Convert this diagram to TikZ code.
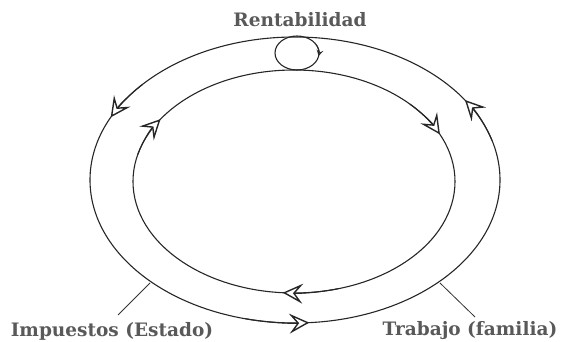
\documentclass[tikz,border=0pt]{standalone}
\usepackage{fontspec}
\setmainfont{DejaVu Serif}
\usetikzlibrary{arrows.meta}
\begin{document}
\begin{tikzpicture}[x=1pt,y=1pt,
  ring/.style={draw=black!85, line width=1.1pt},
  flow/.style={draw=black!85, line width=1.1pt, -{Stealth[open, length=20pt, width=20pt, inset=8pt, fill=white, line width=1.4pt]}},
  lbl/.style={text=black!65, font=\fontsize{18.5}{20}\selectfont\bfseries, inner sep=0pt},
  lead/.style={draw=black!80, line width=0.8pt}]
\useasboundingbox (0,0) rectangle (566,342);
\coordinate (CO) at (295,162);
\coordinate (CI) at (294,160.5);
\coordinate (CS) at (297,289);
% rings
\draw[ring] (CO) ellipse [x radius=205, y radius=143];
\draw[ring] (CI) ellipse [x radius=161, y radius=111.5];
\draw[ring] (CS) ellipse [x radius=22, y radius=17];
% outer flow (counterclockwise)
\draw[flow] ([shift={(138:205 and 143)}]CO) arc [start angle=138, end angle=154, x radius=205, y radius=143];
\draw[flow] ([shift={(16:205 and 143)}]CO) arc [start angle=16, end angle=34, x radius=205, y radius=143];
\draw[flow] ([shift={(256:205 and 143)}]CO) arc [start angle=256, end angle=274, x radius=205, y radius=143];
% inner flow (clockwise)
\draw[flow] ([shift={(166:161 and 111.5)}]CI) arc [start angle=166, end angle=146, x radius=161, y radius=111.5];
\draw[flow] ([shift={(44:161 and 111.5)}]CI) arc [start angle=44, end angle=25, x radius=161, y radius=111.5];
\draw[flow] ([shift={(286:161 and 111.5)}]CI) arc [start angle=286, end angle=266, x radius=161, y radius=111.5];
% small loop arrow
\draw[draw=black!85, line width=0.9pt, -{Stealth[open, length=6pt, width=7pt, inset=2.5pt, fill=white]}] ([shift={(30:22 and 17)}]CS) arc [start angle=30, end angle=-10, x radius=22, y radius=17];
% labels
\node[lbl] (rent) at (300,322) {Rentabilidad};
\node[lbl] (imp) at (112,11) {Impuestos (Estado)};
\node[lbl] (trab) at (470,11) {Trabajo (familia)};
\coordinate (impA) at (150,59);
\coordinate (impB) at (118,27);
\coordinate (trabA) at (440,59);
\coordinate (trabB) at (475,25);
\draw[lead] (impA) -- (impB);
\draw[lead] (trabA) -- (trabB);
\end{tikzpicture}
\end{document}
